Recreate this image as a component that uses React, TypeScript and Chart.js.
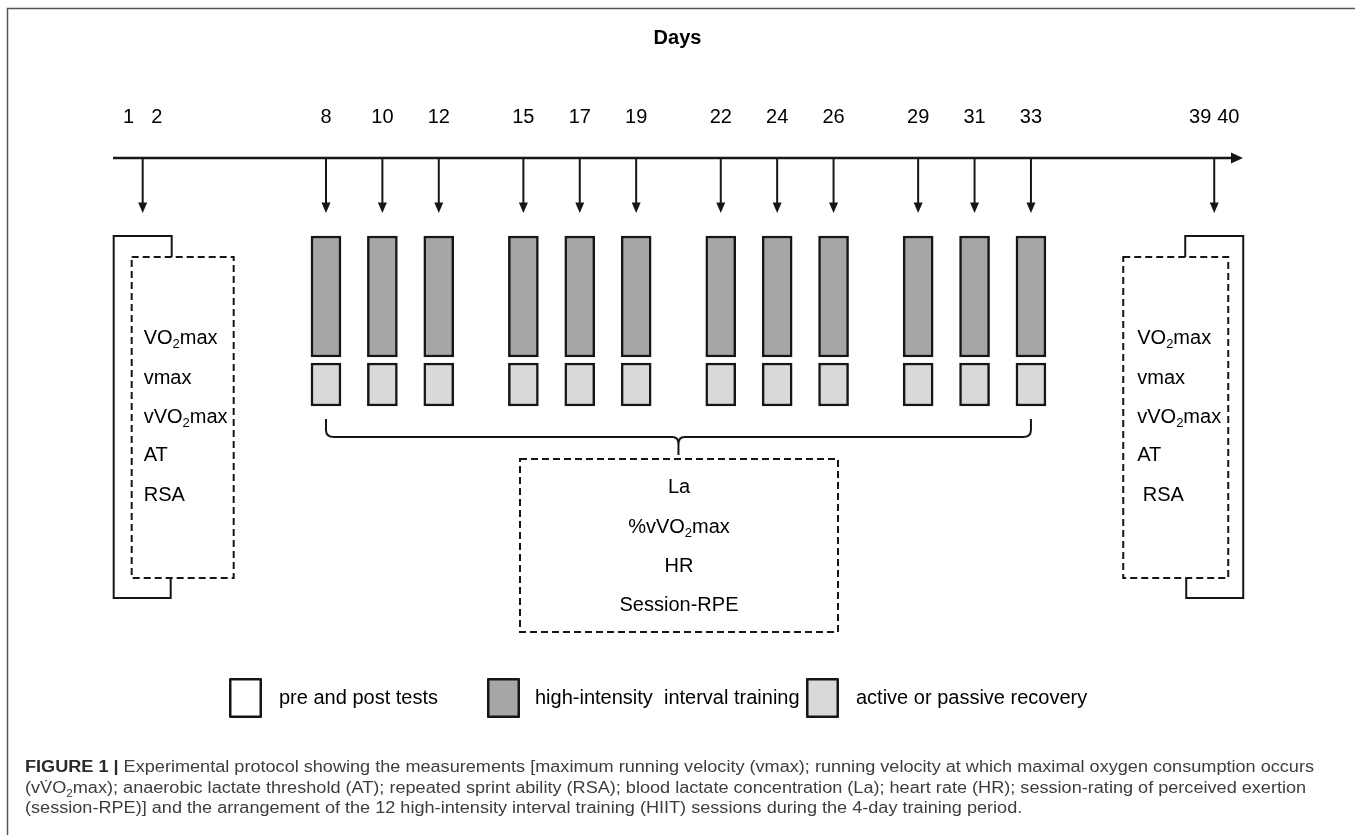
import React, { useEffect, useRef } from "react";
import { Chart, registerables } from "chart.js";

Chart.register(...registerables);

// ---------------- data ----------------
const dayLabels = [1, 2, 8, 10, 12, 15, 17, 19, 22, 24, 26, 29, 31, 33, 39, 40];
const preTestDays = [1, 2];
const postTestDays = [39, 40];
const trainingDays = [8, 10, 12, 15, 17, 19, 22, 24, 26, 29, 31, 33];
const preTestMeasures = ["VO_2max", "vmax", "vVO_2max", "AT", "RSA"];
const postTestMeasures = ["VO_2max", "vmax", "vVO_2max", "AT", " RSA"];
const sessionMeasures = ["La", "%vVO_2max", "HR", "Session-RPE"];
const legendLabels = ["pre and post tests", "high-intensity  interval training", "active or passive recovery"];
const axisTitle = "Days";
const captionLines = [
  "**FIGURE 1 |** Experimental protocol showing the measurements [maximum running velocity (vmax); running velocity at which maximal oxygen consumption occurs",
  "(vV\u0307O_2max); anaerobic lactate threshold (AT); repeated sprint ability (RSA); blood lactate concentration (La); heart rate (HR); session-rating of perceived exertion",
  "(session-RPE)] and the arrangement of the 12 high-intensity interval training (HIIT) sessions during the 4-day training period.",
];

// ---------------- layout / style ----------------
const W = 1355;
const H = 835;
const X_MIN = 0.447;
const X_MAX = 40.52;
const L = {
  title: 38,
  dayLabel: 117,
  axis: 158,
  arrowTip: 213,
  hiitTop: 236,
  hiitBottom: 357,
  recTop: 363,
  recBottom: 406,
  testOuterTop: 236,
  testDashTop: 257,
  testDashBottom: 578,
  testOuterBottom: 598,
  testRows: [338, 378, 417, 455, 495],
  braceEnd: 419,
  braceLine: 437,
  braceTip: 455,
  boxTop: 459,
  boxBottom: 632,
  boxLeft: 520,
  boxRight: 838,
  boxRows: [487, 527, 566, 605],
  legendTop: 678,
  legendBottom: 718,
  legendBoxes: [229, 487, 806],
  legendTexts: [279, 535, 856],
  captionRows: [768, 789, 809],
  captionX: 25,
  captionWidth: 1289,
};
const FONT = '"Liberation Sans", Arial, Helvetica, sans-serif';
const HIIT_COLOR = "#a6a6a6";
const REC_COLOR = "#d9d9d9";
const EDGE = "#161616";

type Seg = { t: string; bold: boolean; sub: boolean };

function parseRich(text: string): Seg[] {
  const out: Seg[] = [];
  const parts = text.split(/(\*\*[^*]+\*\*|_\d)/);
  for (const p of parts) {
    if (!p) continue;
    if (p.startsWith("**")) out.push({ t: p.slice(2, -2), bold: true, sub: false });
    else if (/^_\d$/.test(p)) out.push({ t: p.slice(1), bold: false, sub: true });
    else out.push({ t: p, bold: false, sub: false });
  }
  return out;
}

function fontFor(s: Seg, size: number) {
  const sz = s.sub ? size * 0.65 : size;
  return `${s.bold ? "bold " : ""}${sz}px ${FONT}`;
}

function richWidth(ctx: CanvasRenderingContext2D, text: string, size: number) {
  let w = 0;
  for (const s of parseRich(text)) {
    ctx.font = fontFor(s, size);
    w += ctx.measureText(s.t).width;
  }
  return w;
}

function drawRich(
  ctx: CanvasRenderingContext2D,
  text: string,
  x: number,
  y: number,
  size: number,
  align: "left" | "center",
  color: string,
  boldColor?: string,
  sx: number = 1
) {
  const segs = parseRich(text);
  const total = richWidth(ctx, text, size) * sx;
  const start = align === "center" ? x - total / 2 : x;
  ctx.save();
  ctx.translate(start, y);
  ctx.scale(sx, 1);
  let cx = 0;
  ctx.textAlign = "left";
  ctx.textBaseline = "middle";
  for (const s of segs) {
    ctx.font = fontFor(s, size);
    ctx.fillStyle = s.bold && boldColor ? boldColor : color;
    ctx.fillText(s.t, cx, s.sub ? size * 0.3 : 0);
    cx += ctx.measureText(s.t).width;
  }
  ctx.restore();
}

function mean(a: number[]) {
  return a.reduce((s, v) => s + v, 0) / a.length;
}

const diagramPlugin = {
  id: "diagram",
  afterDatasetsDraw(chart: any) {
    const ctx: CanvasRenderingContext2D = chart.ctx;
    const xs = chart.scales.x;
    const ys = chart.scales.y;
    const X = (d: number) => xs.getPixelForValue(d);
    const Y = (v: number) => ys.getPixelForValue(v);
    const area = chart.chartArea;
    ctx.save();
    ctx.lineCap = "butt";
    ctx.lineJoin = "miter";

    // frame
    ctx.strokeStyle = "#555";
    ctx.lineWidth = 1.5;
    ctx.beginPath();
    ctx.moveTo(W, 8.5);
    ctx.lineTo(7.5, 8.5);
    ctx.lineTo(7.5, H);
    ctx.stroke();

    // title
    ctx.fillStyle = "#000";
    ctx.font = `bold 20px ${FONT}`;
    ctx.textAlign = "center";
    ctx.textBaseline = "middle";
    ctx.fillText(axisTitle, W / 2, Y(L.title));

    // day labels
    ctx.font = `20px ${FONT}`;
    for (const d of dayLabels) {
      ctx.fillText(String(d), X(d), Y(L.dayLabel));
    }

    // time axis with arrow
    const ay = Y(L.axis);
    ctx.strokeStyle = EDGE;
    ctx.fillStyle = EDGE;
    ctx.lineWidth = 2.5;
    ctx.beginPath();
    ctx.moveTo(area.left, ay);
    ctx.lineTo(area.right - 8, ay);
    ctx.stroke();
    ctx.beginPath();
    ctx.moveTo(area.right, ay);
    ctx.lineTo(area.right - 12, ay - 5.5);
    ctx.lineTo(area.right - 12, ay + 5.5);
    ctx.closePath();
    ctx.fill();

    // down arrows
    const arrowDays = [mean(preTestDays), ...trainingDays, mean(postTestDays)];
    const tip = Y(L.arrowTip);
    ctx.lineWidth = 2;
    for (const d of arrowDays) {
      const x = X(d);
      ctx.beginPath();
      ctx.moveTo(x, ay);
      ctx.lineTo(x, tip - 8);
      ctx.stroke();
      ctx.beginPath();
      ctx.moveTo(x, tip);
      ctx.lineTo(x - 4.5, tip - 10.5);
      ctx.lineTo(x + 4.5, tip - 10.5);
      ctx.closePath();
      ctx.fill();
    }

    // pre / post test boxes
    const drawTest = (d: number, side: 1 | -1, rows: string[]) => {
      const c = X(d);
      const oT = Y(L.testOuterTop), oB = Y(L.testOuterBottom);
      const dT = Y(L.testDashTop), dB = Y(L.testDashBottom);
      ctx.strokeStyle = EDGE;
      ctx.lineWidth = 2;
      ctx.setLineDash([]);
      ctx.beginPath();
      ctx.moveTo(c + side * 29, dT);
      ctx.lineTo(c + side * 29, oT);
      ctx.lineTo(c - side * 29, oT);
      ctx.lineTo(c - side * 29, oB);
      ctx.lineTo(c + side * 28, oB);
      ctx.lineTo(c + side * 28, dB);
      ctx.stroke();
      const dl = side === 1 ? c - 11 : c - 91;
      const dr = side === 1 ? c + 91 : c + 14;
      ctx.setLineDash([7, 4]);
      ctx.strokeRect(dl, dT, dr - dl, dB - dT);
      ctx.setLineDash([]);
      const tx = side === 1 ? c + 1 : c - 77;
      rows.forEach((r, i) => drawRich(ctx, r, tx, Y(L.testRows[i]), 20, "left", "#000"));
    };
    drawTest(mean(preTestDays), 1, preTestMeasures);
    drawTest(mean(postTestDays), -1, postTestMeasures);

    // brace
    const xl = X(trainingDays[0]);
    const xr = X(trainingDays[trainingDays.length - 1]);
    const xm = (xl + xr) / 2;
    const bl = Y(L.braceLine);
    ctx.lineWidth = 2;
    ctx.strokeStyle = EDGE;
    ctx.beginPath();
    ctx.moveTo(xl, Y(L.braceEnd));
    ctx.lineTo(xl, bl - 7);
    ctx.quadraticCurveTo(xl, bl, xl + 8, bl);
    ctx.lineTo(xm - 6, bl);
    ctx.quadraticCurveTo(xm, bl, xm, bl + 7);
    ctx.lineTo(xm, Y(L.braceTip));
    ctx.moveTo(xm, bl + 7);
    ctx.quadraticCurveTo(xm, bl, xm + 6, bl);
    ctx.lineTo(xr - 8, bl);
    ctx.quadraticCurveTo(xr, bl, xr, bl - 7);
    ctx.lineTo(xr, Y(L.braceEnd));
    ctx.stroke();

    // session measures box
    ctx.setLineDash([7, 4]);
    ctx.strokeRect(L.boxLeft, Y(L.boxTop), L.boxRight - L.boxLeft, Y(L.boxBottom) - Y(L.boxTop));
    ctx.setLineDash([]);
    sessionMeasures.forEach((r, i) =>
      drawRich(ctx, r, (L.boxLeft + L.boxRight) / 2, Y(L.boxRows[i]), 20, "center", "#000")
    );

    // legend
    const fills = ["#ffffff", HIIT_COLOR, REC_COLOR];
    const lt = Y(L.legendTop), lb = Y(L.legendBottom);
    legendLabels.forEach((lab, i) => {
      const bx = L.legendBoxes[i];
      ctx.fillStyle = fills[i];
      ctx.fillRect(bx, lt, 33, lb - lt);
      ctx.strokeStyle = EDGE;
      ctx.lineWidth = 2.5;
      ctx.lineJoin = "round";
      ctx.strokeRect(bx + 1.25, lt + 1.25, 30.5, lb - lt - 2.5);
      ctx.lineJoin = "miter";
      drawRich(ctx, lab, L.legendTexts[i], (lt + lb) / 2, 20, "left", "#000");
    });

    // caption
    const cs = 16;
    const w1 = richWidth(ctx, captionLines[0], cs);
    const sx = L.captionWidth / w1;
    captionLines.forEach((line, i) =>
      drawRich(ctx, line, L.captionX, Y(L.captionRows[i]), cs, "left", "#3d3d3d", "#2a2a2a", sx)
    );

    ctx.restore();
  },
};

export default function App() {
  const ref = useRef<HTMLCanvasElement | null>(null);
  useEffect(() => {
    const canvas = ref.current;
    if (!canvas) return;
    const chart = new Chart(canvas, {
      type: "bar",
      data: {
        datasets: [
          {
            label: legendLabels[1],
            data: trainingDays.map((d) => ({ x: d, y: [L.hiitTop, L.hiitBottom] })) as any,
            backgroundColor: HIIT_COLOR,
            borderColor: EDGE,
            borderWidth: 2.5,
            borderSkipped: false,
            barThickness: 30,
            grouped: false,
          },
          {
            label: legendLabels[2],
            data: trainingDays.map((d) => ({ x: d, y: [L.recTop, L.recBottom] })) as any,
            backgroundColor: REC_COLOR,
            borderColor: EDGE,
            borderWidth: 2.5,
            borderSkipped: false,
            barThickness: 30,
            grouped: false,
          },
        ],
      },
      options: {
        animation: false,
        responsive: true,
        maintainAspectRatio: false,
        events: [],
        layout: { padding: { left: 113, right: W - 1243, top: 0, bottom: 0 } },
        scales: {
          x: { type: "linear", min: X_MIN, max: X_MAX, display: false, offset: false },
          y: { type: "linear", min: 0, max: H, reverse: true, display: false },
        },
        plugins: { legend: { display: false }, tooltip: { enabled: false } },
      } as any,
      plugins: [diagramPlugin],
    });
    return () => chart.destroy();
  }, []);
  return (
    <div style={{ position: "absolute", left: 0, top: 0, width: W, height: H, background: "#fff" }}>
      <canvas ref={ref} />
    </div>
  );
}
